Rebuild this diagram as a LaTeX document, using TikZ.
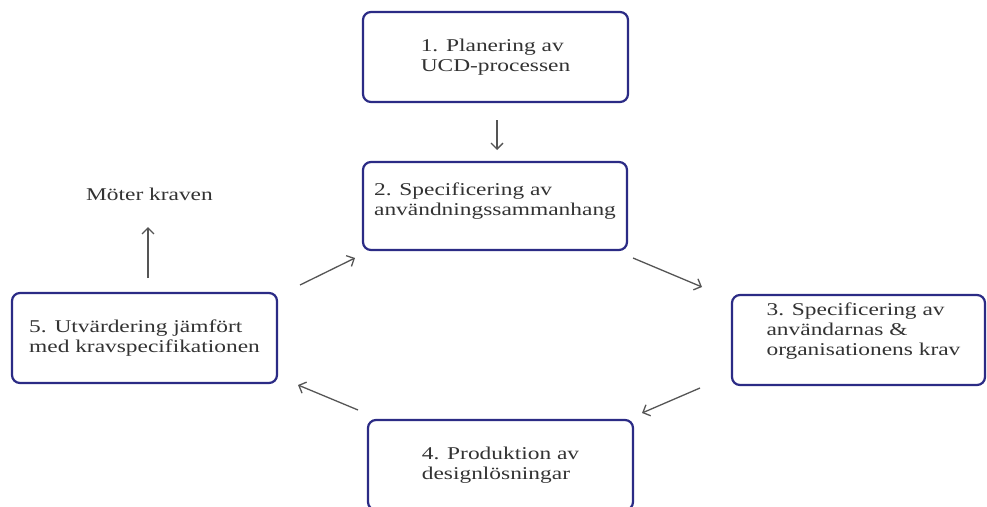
\documentclass[tikz,border=0pt]{standalone}
\usepackage{fontspec}
\setmainfont{Liberation Serif}[FakeStretch=1.3]
\usetikzlibrary{arrows.meta}
\definecolor{boxblue}{HTML}{2B2B85}
\definecolor{inkgray}{HTML}{333333}
\definecolor{arrowgray}{HTML}{555555}
\newcommand{\indentline}{\hspace*{10pt}}
\begin{document}
\begin{tikzpicture}[x=1pt,y=-1pt,
  stage/.style={draw=boxblue, line width=2.2pt, rounded corners=8pt,
    minimum width=265pt, minimum height=90pt, align=left, text=inkgray,
    font=\fontsize{18}{20}\selectfont, inner sep=4pt},
  caption/.style={text=inkgray, font=\fontsize{18}{20}\selectfont, inner sep=0pt},
  flow/.style={draw=arrowgray, line width=1.3pt,
    -{Straight Barb[length=6pt,width=12pt]}}]
  \clip (0,0) rectangle (987,506);
  \fill[white] (0,0) rectangle (987,506);

  % process stages
  \node[stage] (b1) at (495.5,57) {1. Planering av\\UCD-processen};
  \node[stage, minimum width=264pt, minimum height=88pt, text depth=14pt] (b2) at (495,206)
    {2. Specificering av\\användningssammanhang};
  \node[stage, minimum width=253pt, text depth=22pt] (b3) at (858.5,340)
    {\indentline 3. Specificering av\\\indentline användarnas \&\\\indentline organisationens krav};
  \node[stage] (b4) at (500.5,465) {4. Produktion av\\designlösningar};
  \node[stage] (b5) at (144.5,338) {5. Utvärdering jämfört\\med kravspecifikationen};
  \node[caption] (goal) at (149.5,194) {Möter kraven};

  % arrow end points between the stages
  \coordinate (a12) at (497,120);  \coordinate (h12) at (497,150);
  \coordinate (a23) at (633,258);  \coordinate (h23) at (702,287);
  \coordinate (a34) at (700,388);  \coordinate (h34) at (642,413);
  \coordinate (a45) at (358,410);  \coordinate (h45) at (298,385);
  \coordinate (a52) at (300,285);  \coordinate (h52) at (355,258);
  \coordinate (a5g) at (148,278);  \coordinate (h5g) at (148,227);

  \draw[flow] (a12) -- (h12);
  \draw[flow] (a23) -- (h23);
  \draw[flow] (a34) -- (h34);
  \draw[flow] (a45) -- (h45);
  \draw[flow] (a52) -- (h52);
  \draw[flow] (a5g) -- (h5g);
\end{tikzpicture}
\end{document}
